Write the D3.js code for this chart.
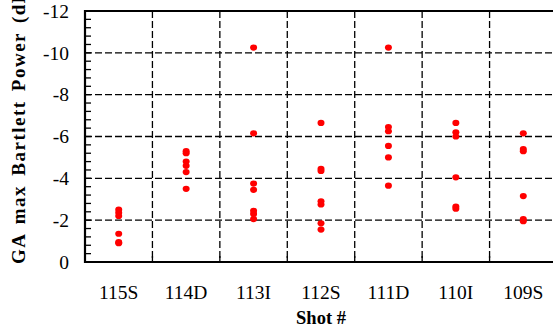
<!DOCTYPE html>
<html><head><meta charset="utf-8">
<script src="https://cdn.jsdelivr.net/npm/d3@7"></script>
<style>body{margin:0;background:#fff}svg{display:block}text{font-family:"Liberation Serif","Times New Roman",Times,serif}</style>
</head><body>
<svg id="c" width="553" height="332"></svg>
<script>
const shots = ["115S","114D","113I","112S","111D","110I","109S"];
const p115S = [-2.5,-2.35,-2.2,-1.35,-0.95,-0.9];
const p114D = [-5.3,-5.2,-4.8,-4.6,-4.3,-3.5];
const p113I = [-10.25,-6.15,-3.75,-3.45,-2.45,-2.3,-2.05];
const p112S = [-6.65,-4.45,-4.35,-2.9,-2.75,-1.85,-1.55];
const p111D = [-10.25,-6.45,-6.25,-5.55,-5.0,-3.65];
const p110I = [-6.65,-6.2,-6.0,-4.05,-2.65,-2.55];
const p109S = [-6.15,-5.4,-5.3,-3.15,-2.05,-1.95];
const powers = [p115S,p114D,p113I,p112S,p111D,p110I,p109S];
const yTicks = [0,-2,-4,-6,-8,-10,-12];

const L=85,R=557,T=11,B=262;
const svg=d3.select("#c");
const x=d3.scaleBand().domain(shots).range([L,R]).padding(0);
const y=d3.scaleLinear().domain([0,-12]).range([B,T]);

// grid
const g=svg.append("g").attr("stroke","#000").attr("stroke-width",1.3).attr("stroke-dasharray","7,3");
g.selectAll(".h").data(yTicks.filter(d=>d!==0&&d!==-12)).enter().append("line")
 .attr("x1",L).attr("x2",R).attr("y1",d=>y(d)).attr("y2",d=>y(d));
g.selectAll(".v").data(shots.slice(1)).enter().append("line")
 .attr("x1",d=>x(d)).attr("x2",d=>x(d)).attr("y1",T).attr("y2",B);

// y axis with minor ticks
const minor=d3.range(0,-12.001,-0.4);
svg.append("g").attr("stroke","#000").attr("stroke-width",1.3)
 .selectAll("line").data(minor).enter().append("line")
 .attr("x1",L).attr("x2",L+6).attr("y1",d=>y(d)).attr("y2",d=>y(d));
// x ticks
svg.append("g").attr("stroke","#000").attr("stroke-width",1.3)
 .selectAll("line").data(shots.slice(1)).enter().append("line")
 .attr("x1",d=>x(d)).attr("x2",d=>x(d)).attr("y1",B).attr("y2",B-6);

// frame
svg.append("path").attr("d",`M${R},${T}H${L}V${B}H${R}`).attr("fill","none").attr("stroke","#000").attr("stroke-width",2.2);

// tick labels
svg.append("g").selectAll("text").data(yTicks).enter().append("text")
 .attr("x",69).attr("y",d=>y(d)).attr("dy","0.35em").attr("text-anchor","end")
 .attr("font-size",19.5).text(d=>d===0?"0":d);
svg.append("g").selectAll("text").data(shots).enter().append("text")
 .attr("x",d=>x(d)+x.bandwidth()/2).attr("y",299).attr("text-anchor","middle")
 .attr("font-size",19.5).text(d=>d);
svg.append("text").attr("x",(L+R)/2).attr("y",324).attr("text-anchor","middle")
 .attr("font-weight","bold").attr("font-size",18.5).text("Shot #");
svg.append("text").attr("transform","translate(25,264) rotate(-90)").attr("text-anchor","start")
 .attr("font-weight","bold").attr("font-size",19)
 .attr("letter-spacing","1.5px").attr("word-spacing","3px").text("GA max Bartlett Power (dB)");

// points
shots.forEach((s,i)=>{
  svg.append("g").attr("fill","#ff0000").selectAll("ellipse").data(powers[i]).enter().append("ellipse")
   .attr("cx",x(s)+x.bandwidth()/2).attr("cy",d=>y(d)).attr("rx",3.5).attr("ry",3.1);
});
</script>
</body></html>
